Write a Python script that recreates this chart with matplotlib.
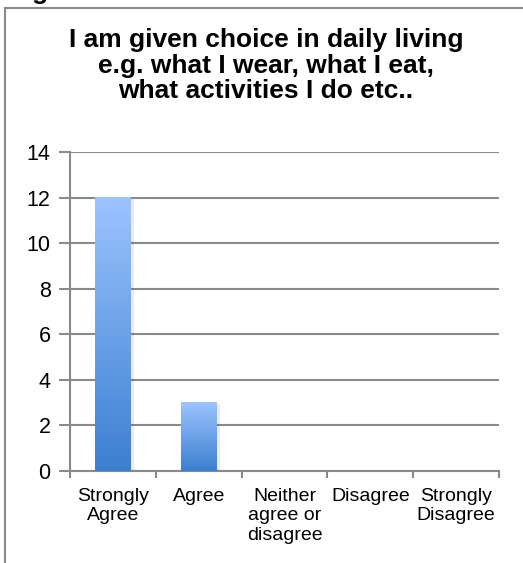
import numpy as np
import matplotlib.pyplot as plt
from matplotlib.patches import Rectangle
from matplotlib.colors import LinearSegmentedColormap

plt.rcParams['font.family'] = ['Liberation Sans', 'DejaVu Sans']

categories = ['Strongly\nAgree', 'Agree', 'Neither\nagree or\ndisagree', 'Disagree', 'Strongly\nDisagree']
counts = [12, 3, 0, 0, 0]
title = 'I am given choice in daily living\ne.g. what I wear, what I eat,\nwhat activities I do etc..'

W, H = 523, 563
fig = plt.figure(figsize=(W / 100, H / 100), dpi=100)

# outer chart frame, open to the right and bottom edges
fig.patches.append(Rectangle((5 / W, -0.1), 1.2, 1.1 - 8 / H, transform=fig.transFigure,
                             fill=False, edgecolor='#8a8a8a', linewidth=1.5))
fig.text(32 / W, 1 + 1 / H, 'g', fontsize=19, fontweight='bold', va='baseline')

ax = fig.add_axes([70 / W, 1 - 471 / H, (499 - 70) / W, (471 - 152) / H])
x = np.arange(len(categories))
bars = ax.bar(x, counts, width=0.41, color='none', edgecolor='none', zorder=3)

grad = np.linspace(0, 1, 256).reshape(-1, 1)
cmap = LinearSegmentedColormap.from_list('bar', ['#3b7fd0', '#9cc4ff'])
for b in bars:
    if b.get_height() <= 0:
        continue
    x0, w, h = b.get_x(), b.get_width(), b.get_height()
    # soft shadow behind the bar
    ax.add_patch(Rectangle((x0 + 0.02, 0), w + 0.02, h - 0.05, facecolor='#000000',
                           alpha=0.08, edgecolor='none', zorder=2))
    ax.imshow(grad, extent=(x0, x0 + w, 0, h), origin='lower', cmap=cmap,
              aspect='auto', zorder=3)

ax.set_xlim(-0.5, len(categories) - 0.5)
ax.set_ylim(0, 14)
ax.set_yticks(range(0, 15, 2))
ax.set_xticks(x)
ax.set_xticklabels(categories, fontsize=14, linespacing=1.2, va='top')
ax.set_xticks(np.arange(-0.5, len(categories)), minor=True)
ax.tick_params(axis='x', which='major', length=0, pad=12)
ax.tick_params(axis='x', which='minor', length=5, width=1.5, color='#8a8a8a', direction='out')
ax.tick_params(axis='y', length=8, width=1.5, color='#8a8a8a', labelsize=15.5, pad=6)

ax.grid(axis='y', color='#8a8a8a', linewidth=1.5, zorder=1)
ax.set_axisbelow(True)
for side in ['top', 'right']:
    ax.spines[side].set_visible(False)
for side in ['left', 'bottom']:
    ax.spines[side].set_color('#8a8a8a')
    ax.spines[side].set_linewidth(1.5)

fig.text(266 / W, 1 - 28 / H, title, ha='center', va='top', fontsize=19,
         fontweight='bold', linespacing=1.08)

fig.savefig('out.png', dpi=100)
